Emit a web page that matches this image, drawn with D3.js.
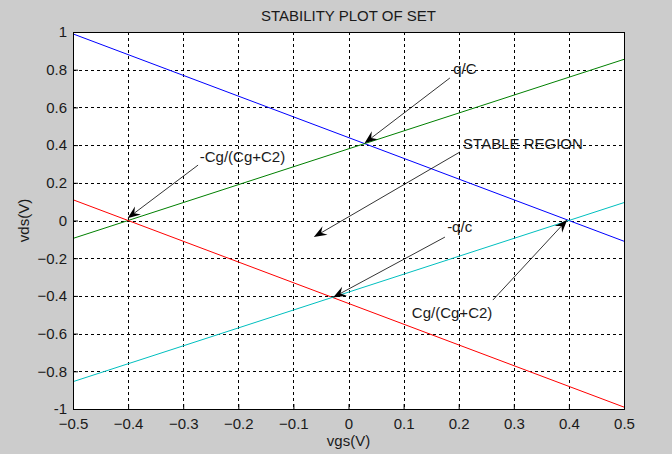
<!DOCTYPE html>
<html>
<head>
<meta charset="utf-8">
<script src="https://cdn.jsdelivr.net/npm/d3@7"></script>
<style>
  body { margin: 0; background: #cccccc; }
  svg { display: block; font-family: "Liberation Sans", Arial, sans-serif; }
</style>
</head>
<body>
<svg id="chart" width="672" height="454"></svg>
<script>
// data
const xEnds = [-0.5, 0.5];
const blueY = [0.99, -0.11];
const greenY = [-0.095, 0.855];
const redY = [0.11, -0.99];
const cyanY = [-0.855, 0.095];

const xTicks = [-0.5, -0.4, -0.3, -0.2, -0.1, 0, 0.1, 0.2, 0.3, 0.4, 0.5];
const yTicks = [-1, -0.8, -0.6, -0.4, -0.2, 0, 0.2, 0.4, 0.6, 0.8, 1];

// annotations: text position, arrow tail, arrow head (data units)
const notes = [
  { label: 'q/C', tx: 0.19, ty: 0.775, x1: 0.184, y1: 0.756, x2: 0.029, y2: 0.41 },
  { label: 'STABLE REGION', tx: 0.208, ty: 0.38, x1: 0.202, y1: 0.363, x2: -0.063, y2: -0.088 },
  { label: '-Cg/(Cg+C2)', tx: -0.27, ty: 0.31, x1: -0.273, y1: 0.294, x2: -0.401, y2: 0.012 },
  { label: '-q/c', tx: 0.179, ty: -0.06, x1: 0.175, y1: -0.088, x2: -0.028, y2: -0.408 },
  { label: 'Cg/(Cg+C2)', tx: 0.115, ty: -0.517, x1: 0.262, y1: -0.422, x2: 0.397, y2: 0.004 }
];

const margin = { left: 73, right: 48, top: 32, bottom: 45 };
const width = 672, height = 454;
const fontSize = 15;

const svg = d3.select('#chart');

const x = d3.scaleLinear().domain([-0.5, 0.5]).range([margin.left, width - margin.right]);
const y = d3.scaleLinear().domain([-1, 1]).range([height - margin.bottom, margin.top]);

svg.append('rect')
  .attr('x', x(-0.5)).attr('y', y(1))
  .attr('width', x(0.5) - x(-0.5)).attr('height', y(-1) - y(1))
  .attr('fill', '#fff');

// grid
const grid = svg.append('g')
  .attr('stroke', '#000')
  .attr('stroke-width', 1)
  .attr('stroke-dasharray', '3,3')
  .attr('shape-rendering', 'crispEdges');

grid.selectAll('.gx')
  .data(xTicks.slice(1, -1))
  .join('line')
  .attr('x1', d => Math.round(x(d)) + 0.5).attr('x2', d => Math.round(x(d)) + 0.5)
  .attr('y1', y(1)).attr('y2', y(-1));

grid.selectAll('.gy')
  .data(yTicks.slice(1, -1))
  .join('line')
  .attr('y1', d => Math.round(y(d)) + 0.5).attr('y2', d => Math.round(y(d)) + 0.5)
  .attr('x1', x(-0.5)).attr('x2', x(0.5));

// series
const series = [
  { ys: blueY, color: '#0000ff' },
  { ys: greenY, color: '#008000' },
  { ys: redY, color: '#ff0000' },
  { ys: cyanY, color: '#00bfbf' }
];

const line = d3.line().x(d => x(d[0])).y(d => y(d[1]));

svg.append('g')
  .selectAll('path')
  .data(series)
  .join('path')
  .attr('d', s => line(xEnds.map((xv, i) => [xv, s.ys[i]])))
  .attr('fill', 'none')
  .attr('stroke', s => s.color)
  .attr('stroke-width', 1);

// axes
const fmt = d => d === 0 ? '0' : (Math.abs(d) === 1 ? String(d) : d3.format('.1f')(d));

const xAxis = svg.append('g')
  .attr('transform', `translate(0,${y(-1)})`)
  .call(d3.axisBottom(x).tickValues(xTicks).tickFormat(fmt).tickSizeInner(-5).tickSizeOuter(0).tickPadding(9));

const yAxis = svg.append('g')
  .attr('transform', `translate(${x(-0.5)},0)`)
  .call(d3.axisLeft(y).tickValues(yTicks).tickFormat(fmt).tickSizeInner(-5).tickSizeOuter(0).tickPadding(6));

[xAxis, yAxis].forEach(a => {
  a.selectAll('text').attr('font-size', fontSize).attr('fill', '#1a1a1a').attr('font-family', '"Liberation Sans", Arial, sans-serif');
  a.select('.domain').remove();
});

// box
svg.append('rect')
  .attr('x', x(-0.5) + 0.5).attr('y', y(1) + 0.5)
  .attr('width', x(0.5) - x(-0.5)).attr('height', y(-1) - y(1))
  .attr('fill', 'none')
  .attr('stroke', '#000')
  .attr('shape-rendering', 'crispEdges');

// annotations
const ann = svg.append('g');

notes.forEach(n => {
  const x1 = x(n.x1), y1 = y(n.y1), x2 = x(n.x2), y2 = y(n.y2);
  const ang = Math.atan2(y2 - y1, x2 - x1);
  const len = 13, half = 5;
  const bx = x2 - len * Math.cos(ang), by = y2 - len * Math.sin(ang);
  const mx = x2 - 0.65 * len * Math.cos(ang), my = y2 - 0.65 * len * Math.sin(ang);
  ann.append('line')
    .attr('x1', x1).attr('y1', y1).attr('x2', mx).attr('y2', my)
    .attr('stroke', '#000').attr('stroke-width', 0.8);
  const px = -Math.sin(ang), py = Math.cos(ang);
  ann.append('path')
    .attr('d', `M${x2},${y2}L${bx + half * px},${by + half * py}L${mx},${my}L${bx - half * px},${by - half * py}Z`)
    .attr('fill', '#000');
  ann.append('text')
    .attr('x', x(n.tx)).attr('y', y(n.ty))
    .attr('font-size', fontSize)
    .attr('fill', '#1a1a1a')
    .text(n.label);
});

// titles
svg.append('text')
  .attr('x', (x(-0.5) + x(0.5)) / 2).attr('y', 21)
  .attr('text-anchor', 'middle')
  .attr('font-size', fontSize)
  .attr('fill', '#1a1a1a')
  .text('STABILITY PLOT OF SET');

svg.append('text')
  .attr('x', (x(-0.5) + x(0.5)) / 2).attr('y', 446)
  .attr('text-anchor', 'middle')
  .attr('font-size', fontSize)
  .attr('fill', '#1a1a1a')
  .text('vgs(V)');

svg.append('text')
  .attr('transform', `translate(29,${(y(1) + y(-1)) / 2}) rotate(-90)`)
  .attr('text-anchor', 'middle')
  .attr('font-size', fontSize)
  .attr('fill', '#1a1a1a')
  .text('vds(V)');
</script>
</body>
</html>
